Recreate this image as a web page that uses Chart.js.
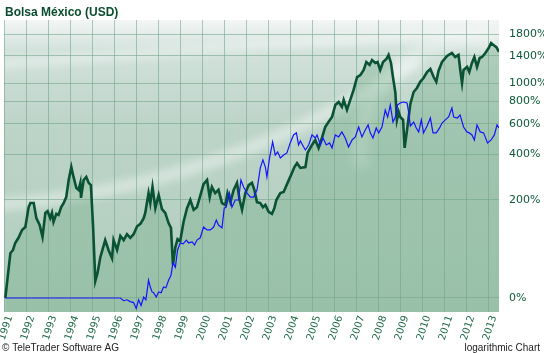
<!DOCTYPE html>
<html lang="es">
<head>
<meta charset="utf-8">
<title>Bolsa México (USD)</title>
<script src="https://cdn.jsdelivr.net/npm/chart.js@4.4.0/dist/chart.umd.min.js"></script>
<style>
    html, body { margin: 0; padding: 0; background: #fff; }
    #grafico { display: block; }
</style>
</head>
<body>
<canvas id="grafico" width="544" height="353"></canvas>
<script>
// Rótulos do eixo X e Y
const anos = [1991, 1992, 1993, 1994, 1995, 1996, 1997, 1998, 1999, 2000, 2001, 2002,
    2003, 2004, 2005, 2006, 2007, 2008, 2009, 2010, 2011, 2012, 2013];
const niveis = [0, 200, 400, 600, 800, 1000, 1400, 1800];

// Bolsa México (USD), variação em % desde 1991
const datasMexico = [1991.06, 1991.29, 1991.41, 1991.51, 1991.66, 1991.82, 1991.97, 1992.12, 1992.20, 1992.35,
    1992.47, 1992.62, 1992.75, 1992.88, 1992.98, 1993.10, 1993.18, 1993.25, 1993.38, 1993.48,
    1993.60, 1993.71, 1993.83, 1993.94, 1994.06, 1994.16, 1994.29, 1994.39, 1994.47, 1994.50,
    1994.62, 1994.74, 1994.85, 1994.95, 1995.05, 1995.15, 1995.25, 1995.38, 1995.60, 1995.75,
    1995.91, 1995.98, 1996.14, 1996.29, 1996.44, 1996.59, 1996.74, 1996.89, 1997.05, 1997.20,
    1997.35, 1997.42, 1997.57, 1997.65, 1997.75, 1997.88, 1998.03, 1998.18, 1998.33, 1998.48,
    1998.59, 1998.68, 1998.79, 1998.89, 1999.01, 1999.16, 1999.32, 1999.47, 1999.62, 1999.77,
    1999.92, 2000.07, 2000.23, 2000.35, 2000.45, 2000.60, 2000.75, 2000.91, 2001.06, 2001.16,
    2001.29, 2001.44, 2001.59, 2001.71, 2001.82, 2001.97, 2002.12, 2002.27, 2002.38, 2002.50,
    2002.65, 2002.77, 2002.88, 2003.03, 2003.18, 2003.29, 2003.38, 2003.56, 2003.71, 2003.89,
    2004.05, 2004.20, 2004.32, 2004.47, 2004.70, 2004.80, 2005.00, 2005.15, 2005.30, 2005.45,
    2005.60, 2005.75, 2005.91, 2006.06, 2006.21, 2006.36, 2006.44, 2006.59, 2006.74, 2006.89,
    2007.05, 2007.20, 2007.35, 2007.47, 2007.62, 2007.73, 2007.88, 2007.98, 2008.10, 2008.23,
    2008.38, 2008.48, 2008.59, 2008.68, 2008.79, 2008.86, 2008.94, 2009.01, 2009.14, 2009.21,
    2009.32, 2009.47, 2009.62, 2009.77, 2009.92, 2010.07, 2010.23, 2010.38, 2010.53, 2010.65,
    2010.75, 2010.91, 2011.14, 2011.36, 2011.51, 2011.66, 2011.74, 2011.82, 2011.89, 2012.05,
    2012.15, 2012.27, 2012.38, 2012.50, 2012.62, 2012.73, 2012.88, 2013.03, 2013.14, 2013.25,
    2013.38, 2013.50];
const valoresMexico = [0, 65, 71, 85, 96, 114, 121, 176, 189, 189,
    144, 126, 98, 159, 164, 144, 159, 134, 156, 153,
    176, 189, 209, 274, 332, 287, 242, 235, 262, 206,
    274, 287, 262, 253, 121, 21, 32, 58, 91, 71,
    56, 91, 71, 100, 91, 104, 96, 104, 123, 129,
    144, 159, 223, 189, 246, 173, 216, 170, 159, 131,
    119, 45, 77, 93, 89, 134, 173, 199, 168, 176,
    213, 257, 274, 209, 246, 223, 235, 189, 183, 223,
    192, 235, 262, 199, 168, 223, 253, 262, 235, 192,
    189, 176, 183, 162, 156, 173, 199, 223, 227, 262,
    296, 332, 352, 328, 332, 406, 453, 485, 435, 498,
    576, 615, 656, 765, 794, 746, 815, 718, 815, 923,
    1082, 1109, 1179, 1299, 1253, 1330, 1284, 1299, 1179, 1299,
    1346, 1413, 1284, 1082, 890, 632, 700, 656, 632, 435,
    554, 775, 900, 946, 1020, 1069, 1150, 1193, 1082, 1020,
    1165, 1299, 1396, 1447, 1379, 1413, 1179, 1007, 1179, 1223,
    1150, 1284, 1379, 1223, 1362, 1379, 1447, 1535, 1628, 1590,
    1550, 1464];

// Série de comparação (linha azul)
const datasComparacao = [1991.06, 1996.29, 1996.44, 1996.59, 1996.74, 1996.89, 1997.01, 1997.12, 1997.23, 1997.35,
    1997.45, 1997.57, 1997.65, 1997.73, 1997.80, 1997.92, 1998.03, 1998.14, 1998.25, 1998.36,
    1998.48, 1998.59, 1998.68, 1998.79, 1998.89, 1999.01, 1999.14, 1999.29, 1999.39, 1999.55,
    1999.66, 1999.77, 1999.92, 2000.07, 2000.23, 2000.38, 2000.53, 2000.65, 2000.75, 2000.91,
    2001.01, 2001.10, 2001.25, 2001.36, 2001.51, 2001.66, 2001.77, 2001.89, 2002.05, 2002.20,
    2002.35, 2002.50, 2002.65, 2002.77, 2002.88, 2002.95, 2003.07, 2003.21, 2003.33, 2003.44,
    2003.56, 2003.71, 2003.86, 2004.01, 2004.16, 2004.29, 2004.39, 2004.47, 2004.62, 2004.70,
    2004.85, 2005.00, 2005.15, 2005.23, 2005.38, 2005.50, 2005.65, 2005.80, 2005.91, 2006.06,
    2006.21, 2006.36, 2006.51, 2006.66, 2006.82, 2006.97, 2007.12, 2007.27, 2007.42, 2007.55,
    2007.65, 2007.77, 2007.92, 2008.03, 2008.18, 2008.33, 2008.44, 2008.56, 2008.68, 2008.79,
    2008.89, 2009.01, 2009.16, 2009.32, 2009.39, 2009.47, 2009.62, 2009.74, 2009.85, 2009.97,
    2010.07, 2010.23, 2010.38, 2010.50, 2010.65, 2010.80, 2010.91, 2011.06, 2011.21, 2011.36,
    2011.44, 2011.61, 2011.73, 2011.89, 2012.04, 2012.15, 2012.27, 2012.38, 2012.50, 2012.65,
    2012.80, 2012.98, 2013.14, 2013.29, 2013.41, 2013.50];
const valoresComparacao = [0, 0, -3, -2, -4, -5, -11, -2, -8, 1,
    -2, 22, 13, 7, 6, 1, 7, 6, 13, 12,
    22, 29, 48, 41, 71, 85, 83, 91, 85, 87,
    81, 91, 96, 121, 114, 114, 121, 139, 126, 119,
    173, 176, 223, 176, 199, 199, 274, 246, 223, 209,
    209, 235, 328, 368, 332, 287, 378, 472, 394, 412,
    378, 394, 406, 466, 519, 533, 453, 479, 441, 423,
    453, 519, 498, 519, 453, 498, 453, 466, 435, 519,
    505, 540, 498, 441, 485, 505, 576, 505, 554, 592,
    533, 498, 569, 533, 576, 718, 656, 765, 615, 656,
    765, 784, 794, 784, 700, 584, 615, 569, 540, 632,
    533, 584, 648, 533, 533, 569, 607, 632, 656, 736,
    656, 648, 674, 576, 540, 533, 519, 485, 592, 540,
    533, 466, 485, 519, 592, 569];

document.addEventListener('DOMContentLoaded', function() {
    // Escala logarítmica: o valor plotado é 1 + %/100
    function pontos(datas, valores) {
        return datas.map((d, i) => ({ x: d, y: 1 + valores[i] / 100 }));
    }

    // Fundo do gráfico e faixas claras
    const fundo = {
        id: 'fundo',
        beforeDraw(chart) {
            const ctx = chart.ctx;
            const a = chart.chartArea;
            ctx.save();
            ctx.fillStyle = '#ffffff';
            ctx.fillRect(0, 0, chart.width, chart.height);

            const g = ctx.createLinearGradient(0, a.top, 0, a.bottom);
            g.addColorStop(0, '#f3f6f5');
            g.addColorStop(0.1, '#d3e2dc');
            g.addColorStop(0.35, '#bdd4c9');
            g.addColorStop(1, '#b0cdbd');
            ctx.fillStyle = g;
            ctx.fillRect(a.left, a.top, a.right - a.left, a.bottom - a.top);

            ctx.beginPath();
            ctx.rect(a.left, a.top, a.right - a.left, a.bottom - a.top);
            ctx.clip();
            ctx.filter = 'blur(5px)';
            ctx.strokeStyle = 'rgba(255,255,255,0.45)';
            ctx.lineWidth = 12;
            ctx.beginPath();
            ctx.moveTo(a.left - 10, 205);
            ctx.quadraticCurveTo(220, 190, 420, 60);
            ctx.stroke();
            ctx.lineWidth = 8;
            ctx.beginPath();
            ctx.moveTo(a.left - 10, 65);
            ctx.quadraticCurveTo(250, 45, 520, 30);
            ctx.stroke();
            ctx.strokeStyle = 'rgba(255,255,255,0.3)';
            ctx.lineWidth = 16;
            ctx.beginPath();
            ctx.arc(470, 150, 110, Math.PI * 0.95, Math.PI * 1.6);
            ctx.stroke();
            ctx.restore();
        },
        afterDraw(chart) {
            const ctx = chart.ctx;
            ctx.save();
            ctx.fillStyle = '#0b4d31';
            ctx.font = 'bold 12px "Liberation Sans", Arial, sans-serif';
            ctx.textBaseline = 'alphabetic';
            ctx.fillText('Bolsa México (USD)', 5, 16);
            ctx.fillStyle = '#222';
            ctx.font = '10px "Liberation Sans", Arial, sans-serif';
            ctx.fillText('© TeleTrader Software AG', 2, 351);
            ctx.textAlign = 'right';
            ctx.fillText('logarithmic Chart', 540, 351);
            ctx.restore();
        }
    };

    const ctx = document.getElementById('grafico').getContext('2d');
    const chart = new Chart(ctx, {
        type: 'line',
        data: {
            datasets: [
                {
                    label: 'Comparação',
                    data: pontos(datasComparacao, valoresComparacao),
                    borderColor: '#1414ff',
                    borderWidth: 1.2,
                    pointRadius: 0,
                    tension: 0,
                    fill: false,
                    order: 0
                },
                {
                    label: 'Bolsa México (USD)',
                    data: pontos(datasMexico, valoresMexico),
                    borderColor: '#0a5234',
                    borderWidth: 2.6,
                    pointRadius: 0,
                    tension: 0,
                    fill: 'start',
                    backgroundColor: 'rgba(110,170,130,0.35)',
                    order: 1
                }
            ]
        },
        options: {
            responsive: false,
            animation: false,
            layout: { padding: { left: 4, top: 20, right: 0, bottom: 0 } },
            scales: {
                x: {
                    type: 'linear',
                    min: 1991,
                    max: 2013.5,
                    border: { display: false },
                    grid: { color: 'rgba(110,160,135,0.55)', drawTicks: false },
                    afterBuildTicks: function(axis) {
                        axis.ticks = anos.map(a => ({ value: a }));
                    },
                    afterFit: function(axis) {
                        axis.height = 41;
                        axis.paddingLeft = 0;
                        axis.paddingRight = 0;
                    },
                    ticks: {
                        autoSkip: false,
                        maxRotation: 72,
                        minRotation: 72,
                        padding: 2,
                        labelOffset: 6,
                        color: '#1c6a45',
                        font: { family: 'DejaVu Sans', size: 10 },
                        callback: function(value) {
                            return String(value);
                        }
                    }
                },
                y: {
                    type: 'logarithmic',
                    position: 'right',
                    min: 0.855,
                    max: 22.36,
                    border: { display: false },
                    grid: { color: 'rgba(110,160,135,0.55)', drawTicks: false },
                    afterBuildTicks: function(axis) {
                        axis.ticks = niveis.map(p => ({ value: 1 + p / 100 }));
                    },
                    afterFit: function(axis) {
                        axis.width = 45;
                        axis.paddingTop = 0;
                        axis.paddingBottom = 0;
                    },
                    ticks: {
                        padding: 10,
                        color: '#0d5a3a',
                        font: { family: 'DejaVu Sans', size: 11 },
                        callback: function(value) {
                            return Math.round((value - 1) * 100) + '%';
                        }
                    }
                }
            },
            plugins: {
                legend: { display: false },
                tooltip: { enabled: false }
            }
        },
        plugins: [fundo]
    });
});
</script>
</body>
</html>
